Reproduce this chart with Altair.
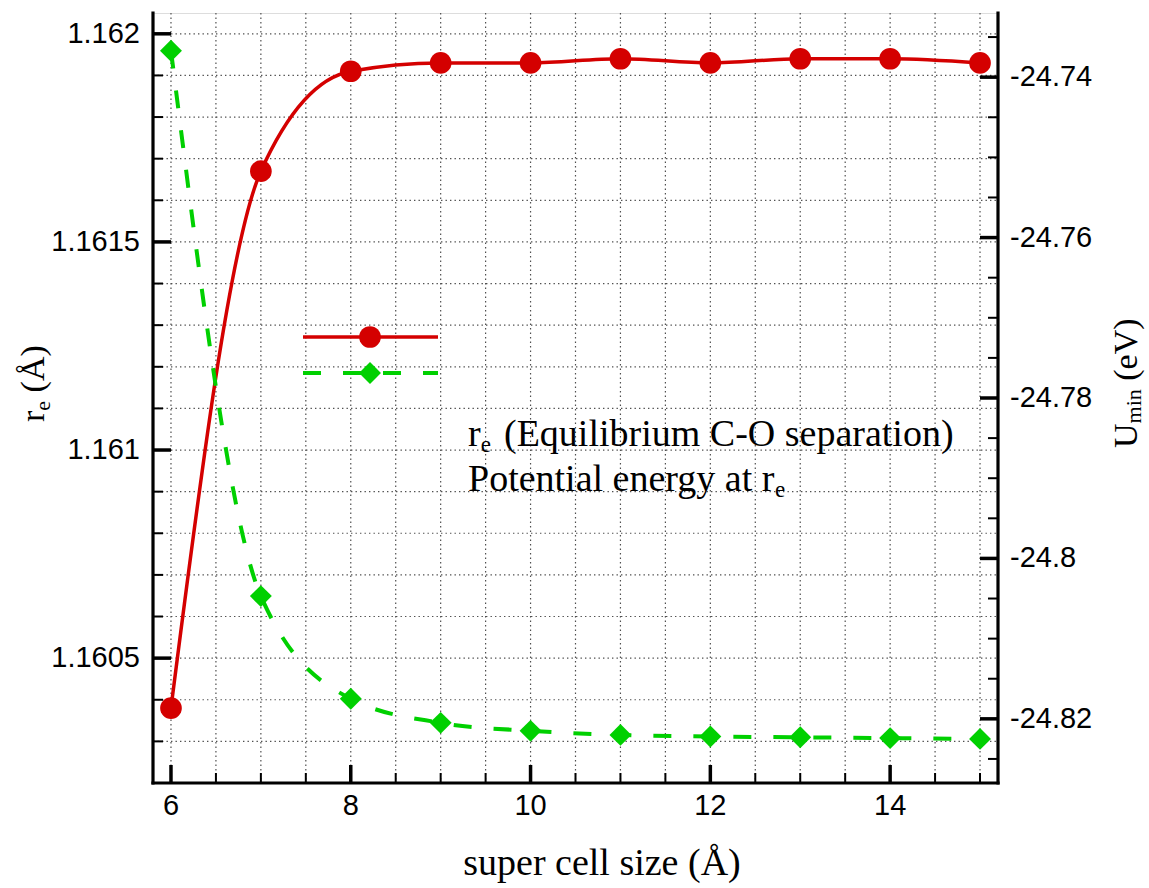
import altair as alt
import pandas as pd

# ---------------- data ----------------
cell_size = [6, 7, 8, 9, 10, 11, 12, 13, 14, 15]
r_e = [1.16038, 1.16167, 1.16191, 1.16193, 1.16193, 1.16194, 1.16193, 1.16194, 1.16194, 1.16193]
u_min = [-24.7367, -24.8047, -24.8175, -24.8205, -24.8215, -24.8220, -24.8222, -24.8223, -24.8224, -24.8225]

x_major = [6, 8, 10, 12, 14]
x_minor = [6.5, 7, 7.5, 8.5, 9, 9.5, 10.5, 11, 11.5, 12.5, 13, 13.5, 14.5, 15]
left_major = [1.1605, 1.161, 1.1615, 1.162]
left_minor = [1.1603, 1.1604, 1.1606, 1.1607, 1.1608, 1.1609, 1.1611, 1.1612,
              1.1613, 1.1614, 1.1616, 1.1617, 1.1618, 1.1619]
right_major = [-24.82, -24.8, -24.78, -24.76, -24.74]
right_minor = [-24.825, -24.815, -24.81, -24.805, -24.795, -24.79, -24.785, -24.775,
               -24.77, -24.765, -24.755, -24.75, -24.745, -24.735]

RED = "#d40000"
GREEN = "#00d000"
W, H = 845, 770
SANS = "Liberation Sans"
SERIF = "Liberation Serif"
GRID = "#505050"
LAB = 29

df = pd.DataFrame({"size": cell_size, "re": r_e, "umin": u_min})

xs = alt.Scale(domain=[5.8, 15.2], nice=False, zero=False)
ysl = alt.Scale(domain=[1.1602, 1.16205], nice=False, zero=False)
ysr = alt.Scale(domain=[-24.828, -24.732], nice=False, zero=False)


def X(field):
    return alt.X(field, type="quantitative", scale=xs, axis=None)


def YL(field):
    return alt.Y(field, type="quantitative", scale=ysl, axis=None)


def YR(field):
    return alt.Y(field, type="quantitative", scale=ysr, axis=None)


def tick_df(vals):
    return pd.DataFrame({"v": vals, "t": [str(v) for v in vals]})


ONE = alt.Data(values=[{}])

# ---------------- grid, axis lines, ticks, labels ----------------
vgrid = alt.Chart(tick_df(sorted(x_major + x_minor))).mark_rule(
    color=GRID, strokeWidth=1.2, strokeDash=[1.4, 3.1]).encode(
    x=X("v"), y=alt.value(0), y2=alt.value(H))
hgrid = alt.Chart(tick_df(sorted(left_major + left_minor))).mark_rule(
    color=GRID, strokeWidth=1.2, strokeDash=[1.4, 3.1]).encode(
    y=YL("v"), x=alt.value(0), x2=alt.value(W))


def xticks(vals, length, width):
    return alt.Chart(tick_df(vals)).mark_rule(color="black", strokeWidth=width).encode(
        x=X("v"), y=alt.value(H), y2=alt.value(H - length))


def lticks(vals, length, width):
    return alt.Chart(tick_df(vals)).mark_rule(color="black", strokeWidth=width).encode(
        y=YL("v"), x=alt.value(0), x2=alt.value(length))


def rticks(vals, length, width):
    return alt.Chart(tick_df(vals)).mark_rule(color="black", strokeWidth=width).encode(
        y=YR("v"), x=alt.value(W), x2=alt.value(W - length))


x_labels = alt.Chart(tick_df(x_major)).mark_text(
    font=SANS, fontSize=LAB, color="black", align="center", baseline="alphabetic").encode(
    x=X("v"), y=alt.value(802), text="t:N")
l_labels = alt.Chart(tick_df(left_major)).mark_text(
    font=SANS, fontSize=LAB, color="black", align="right", baseline="middle").encode(
    y=YL("v"), x=alt.value(-13), text="t:N")
r_labels = alt.Chart(tick_df(right_major)).mark_text(
    font=SANS, fontSize=LAB, color="black", align="left", baseline="middle").encode(
    y=YR("v"), x=alt.value(W + 12), text="t:N")

axis_lines = [
    alt.Chart(ONE).mark_rule(color="black", strokeWidth=3.2, strokeCap="square").encode(
        x=alt.value(0), y=alt.value(0), y2=alt.value(H)),
    alt.Chart(ONE).mark_rule(color="black", strokeWidth=3.2, strokeCap="square").encode(
        x=alt.value(W), y=alt.value(0), y2=alt.value(H)),
    alt.Chart(ONE).mark_rule(color="black", strokeWidth=3.2, strokeCap="square").encode(
        y=alt.value(H), x=alt.value(0), x2=alt.value(W)),
]

# ---------------- left (r_e) group ----------------
red_line = alt.Chart(df).mark_line(color=RED, strokeWidth=3.5, interpolate="monotone").encode(
    x=X("size"), y=YL("re"))
red_pts = alt.Chart(df).mark_point(shape="circle", filled=True, size=470, color=RED, opacity=1).encode(
    x=X("size"), y=YL("re"))

left = alt.layer(
    vgrid, hgrid,
    xticks(x_major, 18, 3.5), xticks(x_minor, 10, 2),
    lticks(left_major, 18, 3.5), lticks(left_minor, 10, 2),
    x_labels, l_labels,
    red_line, red_pts,
)

# ---------------- right (U_min) group ----------------
green_line = alt.Chart(df).mark_line(color=GREEN, strokeWidth=4, strokeDash=[18, 22],
                                     interpolate="monotone").encode(
    x=X("size"), y=YR("umin"))
green_pts = alt.Chart(df).mark_point(shape="diamond", filled=True, size=480, color=GREEN, opacity=1).encode(
    x=X("size"), y=YR("umin"))
right = alt.layer(rticks(right_major, 18, 3.5), rticks(right_minor, 10, 2), r_labels,
                  green_line, green_pts)


# ---------------- annotations ----------------
def txt(s, x, y, size, angle=0, font=SERIF, align="left"):
    return alt.Chart(ONE).mark_text(text=s, font=font, fontSize=size, align=align,
                                    baseline="alphabetic", angle=angle, color="black").encode(
        x=alt.value(x), y=alt.value(y))


LEG = 38
ann = [
    # legend symbols
    alt.Chart(ONE).mark_rule(color=RED, strokeWidth=3.5).encode(
        x=alt.value(150), x2=alt.value(285), y=alt.value(324)),
    alt.Chart(ONE).mark_point(shape="circle", filled=True, size=470, color=RED, opacity=1).encode(
        x=alt.value(217), y=alt.value(324)),
    alt.Chart(ONE).mark_rule(color=GREEN, strokeWidth=4, strokeDash=[18, 22]).encode(
        x=alt.value(150), x2=alt.value(285), y=alt.value(360)),
    alt.Chart(ONE).mark_point(shape="diamond", filled=True, size=480, color=GREEN, opacity=1).encode(
        x=alt.value(217), y=alt.value(360)),
    # legend text
    txt("r", 315, 433, LEG),
    txt("e", 315 + 0.333 * LEG, 439, 23),
    txt("(Equilibrium C-O separation)", 351, 433, LEG),
    txt("Potential energy at r", 315, 478, LEG),
    txt("e", 315 + 8.082 * LEG, 484, 23),
    # x title
    txt("super cell size (Å)", 449, 862, 38, align="center"),
    # left y title (rotated)
    txt("r", -109, 409, 34, angle=270),
    txt("e", -103, 409 - 0.333 * 34, 22, angle=270),
    txt("(Å)", -109, 409 - 0.333 * 34 - 0.444 * 22 - 8.5, 34, angle=270),
    # right y title (rotated)
    txt("U", 984, 435, 34, angle=270),
    txt("min", 988, 435 - 0.722 * 34, 22, angle=270),
    txt("(eV)", 984, 435 - 0.722 * 34 - 1.556 * 22 - 8.5, 34, angle=270),
]

chart = alt.layer(left, right, *axis_lines, *ann).resolve_scale(y="independent").properties(
    width=W, height=H,
    padding={"left": 153, "top": 13, "right": 151, "bottom": 105},
    autosize=alt.AutoSizeParams(type="none"),
).configure_view(strokeWidth=0).configure(background="white")

chart.save("out.html", embed_options={"renderer": "svg", "actions": False})
